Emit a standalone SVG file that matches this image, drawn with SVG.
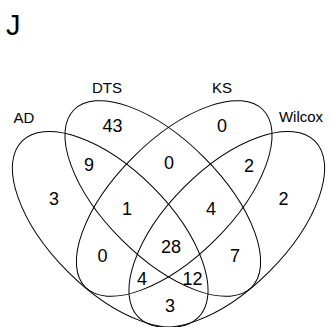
<svg xmlns="http://www.w3.org/2000/svg" width="334" height="327" viewBox="0 0 334 327">
<style>
.set{fill:none;stroke:#000;stroke-width:1}
.cat{font-family:"Liberation Sans",Arial,sans-serif;font-size:15px;fill:#000;text-anchor:middle}
.num{font-family:"Liberation Sans",Arial,sans-serif;font-size:18px;fill:#000;text-anchor:middle}
.title{font-family:"Liberation Sans",Arial,sans-serif;font-size:29px;fill:#000}
</style>
<rect width="334" height="327" fill="#fff"/>
<text class="title" x="6" y="35">J</text>
<g id="set-AD">
<ellipse class="set" cx="110.2" cy="229.3" rx="124.7" ry="60" transform="rotate(45 110.2 229.3)"/>
<text class="cat" x="24" y="123">AD</text>
</g>
<g id="set-DTS">
<ellipse class="set" cx="162.8" cy="198.5" rx="125.5" ry="58.3" transform="rotate(45 162.8 198.5)"/>
<text class="cat" x="107" y="93">DTS</text>
</g>
<g id="set-KS">
<ellipse class="set" cx="174.2" cy="198.5" rx="125.5" ry="58.3" transform="rotate(-45 174.2 198.5)"/>
<text class="cat" x="222" y="93">KS</text>
</g>
<g id="set-Wilcox">
<ellipse class="set" cx="226.8" cy="229.3" rx="124.7" ry="60" transform="rotate(-45 226.8 229.3)"/>
<text class="cat" x="301" y="122">Wilcox</text>
</g>
<g id="counts">
<text class="num" x="112.5" y="132">43</text>
<text class="num" x="222" y="132">0</text>
<text class="num" x="89" y="171">9</text>
<text class="num" x="169" y="168.5">0</text>
<text class="num" x="249" y="171.5">2</text>
<text class="num" x="54" y="205">3</text>
<text class="num" x="283.5" y="205">2</text>
<text class="num" x="127" y="215">1</text>
<text class="num" x="211" y="215">4</text>
<text class="num" x="171" y="252.5">28</text>
<text class="num" x="102.5" y="261.5">0</text>
<text class="num" x="235" y="261.5">7</text>
<text class="num" x="142" y="285">4</text>
<text class="num" x="192.5" y="285">12</text>
<text class="num" x="170" y="311.5">3</text>
</g>
</svg>
